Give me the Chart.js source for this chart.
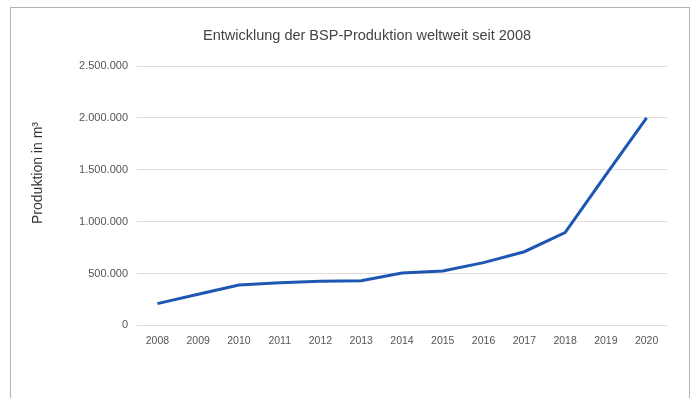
<!DOCTYPE html>
<html>
<head>
<meta charset="utf-8">
<script src="https://cdn.jsdelivr.net/npm/chart.js@4"></script>
<style>
  html, body { margin: 0; padding: 0; background: #fff; }
  #wrap { position: relative; width: 696px; height: 398px; }
  #frame {
    position: absolute; left: 10px; top: 7px; width: 680px; height: 400px;
    border: 1px solid #b4b4b4; border-bottom: none; box-sizing: border-box;
  }
  canvas { position: absolute; left: 0; top: 0; }
</style>
</head>
<body>
<div id="wrap">
  <div id="frame"></div>
  <canvas id="chart" width="696" height="398"></canvas>
</div>
<script>
// data
const years = ["2008", "2009", "2010", "2011", "2012", "2013", "2014",
  "2015", "2016", "2017", "2018", "2019", "2020"];
const production = [210000, 300000, 390000, 410000, 425000, 430000, 505000,
  525000, 605000, 710000, 895000, 1450000, 2000000];
const yTicks = [0, 500000, 1000000, 1500000, 2000000, 2500000];
const chartTitle = "Entwicklung der BSP-Produktion weltweit seit 2008";
const yTitle = "Produktion in m³";

// german thousand separator
function formatDe(v) {
  return String(v).replace(/\B(?=(\d{3})+(?!\d))/g, ".");
}

// title and y axis title are not centred on the plot in the original,
// so they are drawn here at their own spots
const titlesPlugin = {
  id: "titles",
  afterDraw(chart) {
    const c = chart.ctx;
    c.save();
    c.textAlign = "center";
    c.textBaseline = "middle";
    c.fillStyle = "#444";
    c.font = "14.5px 'Liberation Sans', Arial, sans-serif";
    c.fillText(chartTitle, 367, 36);

    c.translate(38, 173);
    c.rotate(-Math.PI / 2);
    c.fillStyle = "#333";
    c.font = "14px 'Liberation Sans', Arial, sans-serif";
    c.fillText(yTitle, 0, 0);
    c.restore();
  },
};

const ctx = document.getElementById("chart");
const tickFont = { family: "'Liberation Sans', Arial, sans-serif", size: 11 };

let myChart = new Chart(ctx, {
  type: "line",
  plugins: [titlesPlugin],
  data: {
    labels: years,
    datasets: [
      {
        data: production,
        borderColor: "#1d57b3",
        borderWidth: 3,
        pointRadius: 0,
        tension: 0,
        fill: false,
      },
    ],
  },
  options: {
    responsive: false,
    animation: false,
    layout: { padding: { left: 32, right: 29, top: 66, bottom: 42 } },
    plugins: {
      legend: { display: false },
      tooltip: { enabled: false },
      title: { display: false },
    },
    scales: {
      x: {
        offset: true,
        grid: { display: false, drawTicks: false },
        border: { display: false },
        ticks: { color: "#555", font: { family: "'Liberation Sans', Arial, sans-serif", size: 10.5 }, padding: 9, maxRotation: 0 },
      },
      y: {
        min: 0,
        max: 2500000,
        afterBuildTicks: (scale) => {
          scale.ticks = yTicks.map((v) => ({ value: v }));
        },
        afterFit: (scale) => {
          scale.width = 105;
        },
        grid: { color: "#e4dcd8", drawTicks: false, lineWidth: 1 },
        border: { display: false },
        ticks: {
          color: "#555",
          font: tickFont,
          padding: 9,
          callback: (v) => formatDe(v),
        },
      },
    },
  },
});
</script>
</body>
</html>
